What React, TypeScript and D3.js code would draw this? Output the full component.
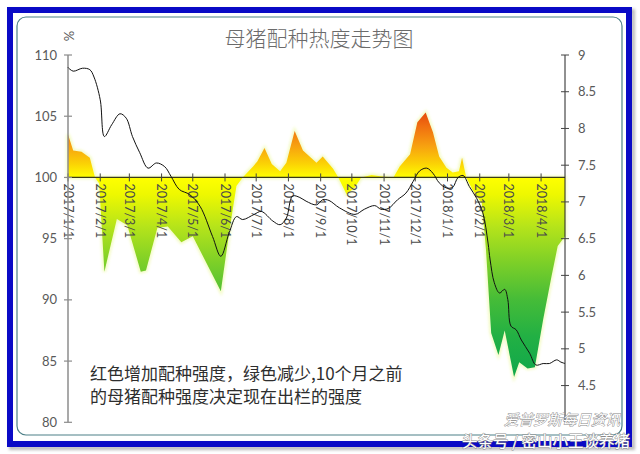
import React from 'react';
import * as d3 from 'd3';

// ---------- data ----------
const areaDates = [
  '2017-01-01', '2017-01-06', '2017-01-14', '2017-01-22', '2017-01-27', '2017-01-31',
  '2017-02-05', '2017-02-17', '2017-02-27', '2017-03-12', '2017-03-17', '2017-03-28',
  '2017-04-07', '2017-04-20', '2017-05-01', '2017-05-28', '2017-06-05', '2017-06-12',
  '2017-06-18', '2017-06-28', '2017-07-02', '2017-07-09', '2017-07-16', '2017-07-24',
  '2017-07-30', '2017-08-07', '2017-08-15', '2017-08-28', '2017-09-03', '2017-09-13',
  '2017-09-18', '2017-09-26', '2017-10-04', '2017-10-10', '2017-10-20', '2017-10-28',
  '2017-11-10', '2017-11-16', '2017-11-26', '2017-12-03', '2017-12-11', '2017-12-18',
  '2017-12-24', '2017-12-31', '2018-01-06', '2018-01-12', '2018-01-15', '2018-01-19',
  '2018-01-25', '2018-02-03', '2018-02-07', '2018-02-12', '2018-02-19', '2018-02-25',
  '2018-03-06', '2018-03-11', '2018-03-19', '2018-03-26', '2018-04-03', '2018-04-11',
  '2018-04-17', '2018-04-24',
];
const areaValues = [
  103.5, 102.2, 102.1, 101.6, 100.0, 99.5,
  92.3, 96.6, 96.1, 92.3, 92.4, 95.9,
  96.0, 94.7, 95.2, 90.7, 95.5, 99.3,
  100.0, 100.9, 101.3, 102.4, 101.1, 100.5,
  101.2, 103.8, 102.2, 101.2, 101.7, 100.7,
  100.0, 98.6, 99.2, 100.0, 100.2, 100.1,
  100.0, 100.9, 101.9, 104.5, 105.3, 103.7,
  101.7, 100.8, 100.4, 100.5, 101.6, 100.0,
  99.0, 97.9, 94.1, 87.3, 85.5, 87.5,
  83.7, 84.9, 84.4, 84.5, 88.4, 91.9,
  94.4, 95.2,
];

const lineDates = [
  '2017-01-01', '2017-01-06', '2017-01-15', '2017-01-22', '2017-01-26', '2017-02-01',
  '2017-02-05', '2017-02-12', '2017-02-20', '2017-02-26', '2017-03-04', '2017-03-11',
  '2017-03-19', '2017-03-27', '2017-04-04', '2017-04-10', '2017-04-18', '2017-04-28',
  '2017-05-08', '2017-05-20', '2017-05-28', '2017-06-05', '2017-06-12', '2017-06-18',
  '2017-06-29', '2017-07-06', '2017-07-17', '2017-07-24', '2017-07-30', '2017-08-05',
  '2017-08-12', '2017-08-18', '2017-08-28', '2017-09-03', '2017-09-09', '2017-09-19',
  '2017-10-04', '2017-10-13', '2017-10-23', '2017-10-29', '2017-11-05', '2017-11-14',
  '2017-11-22', '2017-11-29', '2017-12-05', '2017-12-12', '2017-12-18', '2017-12-24',
  '2017-12-31', '2018-01-06', '2018-01-11', '2018-01-16', '2018-01-22', '2018-01-29',
  '2018-02-04', '2018-02-09', '2018-02-11', '2018-02-15', '2018-02-20', '2018-02-25',
  '2018-02-28', '2018-03-03', '2018-03-08', '2018-03-13', '2018-03-21', '2018-03-27',
  '2018-04-03', '2018-04-09', '2018-04-16', '2018-04-20', '2018-04-24',
];
const lineValues = [
  8.83, 8.78, 8.82, 8.8, 8.7, 8.39,
  7.89, 8.05, 8.2, 8.14, 7.89, 7.67,
  7.46, 7.53, 7.48, 7.35, 7.17, 7.1,
  6.94, 6.53, 6.26, 6.58, 6.8, 6.76,
  6.83, 6.87, 6.74, 6.69, 6.78, 7.08,
  7.06, 7.01, 6.96, 7.03, 7.02, 6.92,
  6.83, 6.9, 6.95, 6.9, 6.91, 7.03,
  7.12, 7.28, 7.42, 7.46, 7.39, 7.26,
  7.19, 7.2, 7.33, 7.36, 7.21, 7.05,
  6.85, 6.44, 6.21, 5.9, 5.76, 5.81,
  5.67, 5.31, 5.26, 5.12, 4.94, 4.78,
  4.8, 4.8, 4.85, 4.82, 4.8,
];

const monthTicks = [
  '2017-01-01', '2017-02-01', '2017-03-01', '2017-04-01', '2017-05-01', '2017-06-01',
  '2017-07-01', '2017-08-01', '2017-09-01', '2017-10-01', '2017-11-01', '2017-12-01',
  '2018-01-01', '2018-02-01', '2018-03-01', '2018-04-01',
];
const leftTicks = [80, 85, 90, 95, 100, 105, 110];
const rightTicks = [4.5, 5, 5.5, 6, 6.5, 7, 7.5, 8, 8.5, 9];

const titleText = '母猪配种热度走势图';
const noteLines = ['红色增加配种强度，绿色减少,10个月之前', '的母猪配种强度决定现在出栏的强度'];
const markLines = ['爱普罗斯每日资讯', '头条号 / 密山小王谈养猪'];

const gradientStops: [number, string][] = [
  [105.6, '#e3420b'],
  [104.2, '#f06e10'],
  [102.6, '#f7a010'],
  [101.2, '#fbcf05'],
  [100, '#ffff00'],
  [98.6, '#eef800'],
  [96, '#b6e41a'],
  [93, '#7ccf28'],
  [90, '#45bc38'],
  [87, '#22b044'],
  [83.5, '#0fa74c'],
];

const parse = d3.timeParse('%Y-%m-%d');
const fmt = d3.timeFormat('%Y/%-m/%-d');

export default function App() {
  const W = 640;
  const H = 454;
  const x = d3.scaleTime()
    .domain([parse('2017-01-01') as Date, parse('2018-04-24') as Date])
    .range([68, 565]);
  const yL = d3.scaleLinear().domain([80, 110]).range([422.3, 55]);
  const yR = d3.scaleLinear().domain([4, 9]).range([422.3, 55]);

  const areaData = areaDates.map((d, i) => ({ t: parse(d) as Date, v: areaValues[i] }));
  const lineData = lineDates.map((d, i) => ({ t: parse(d) as Date, v: lineValues[i] }));

  const areaGen = d3.area<{ t: Date; v: number }>()
    .x(d => x(d.t))
    .y0(yL(100))
    .y1(d => yL(d.v))
    .curve(d3.curveLinear);
  const lineGen = d3.line<{ t: Date; v: number }>()
    .x(d => x(d.t))
    .y(d => yR(d.v))
    .curve(d3.curveCatmullRom.alpha(0.5));

  const g0 = 106, g1 = 83;
  const numFont = 'Lato, "Open Sans", sans-serif';
  const cjk = '"Noto Sans CJK SC", sans-serif';
  const y100 = yL(100);

  return (
    <svg width={W} height={H} style={{ position: 'absolute', left: 0, top: 0, background: '#fff' }}>
      <defs>
        <linearGradient id="heat" gradientUnits="userSpaceOnUse" x1={0} x2={0} y1={yL(g0)} y2={yL(g1)}>
          {gradientStops.map(([v, c], i) => (
            <stop key={i} offset={(g0 - v) / (g0 - g1)} stopColor={c} />
          ))}
        </linearGradient>
        <filter id="glow" x="-10%" y="-10%" width="120%" height="120%">
          <feGaussianBlur stdDeviation="1.4" />
        </filter>
        <filter id="shadow" x="-5%" y="-5%" width="110%" height="110%">
          <feGaussianBlur stdDeviation="1.5" />
        </filter>
      </defs>

      {/* frame */}
      <rect x={11} y={11} width={622} height={437} fill="none" stroke="#bbb" strokeWidth={4} filter="url(#shadow)" />
      <rect x={10} y={10} width={619} height={434} fill="#fff" stroke="#0a0ac6" strokeWidth={6} />
      <rect x={17} y={17} width={605} height={418} rx={9} fill="#fff" stroke="#4d8088" strokeWidth={1.2} />

      {/* title */}
      <text x={319} y={46} textAnchor="middle" fontFamily={cjk} fontSize={21} fill="#6b6b6b" fontWeight={300}>
        {titleText}
      </text>
      <text x={0} y={0} transform={`translate(74,36) rotate(-90)`} textAnchor="middle" fontFamily={numFont} fontSize={13} fill="#595959">%</text>

      {/* area with glow */}
      <path d={areaGen(areaData) || ''} fill="none" stroke="#eef9a8" strokeWidth={3} filter="url(#glow)" opacity={0.8} />
      <path d={areaGen(areaData) || ''} fill="url(#heat)" />

      {/* x baseline and month ticks */}
      <line x1={x.range()[0]} x2={x.range()[1]} y1={y100} y2={y100} stroke="#3a3a1a" strokeWidth={1.2} />
      {monthTicks.map((d) => {
        const xx = x(parse(d) as Date);
        return (
          <g key={d}>
            <line x1={xx} x2={xx} y1={y100 - 4} y2={y100 + 4} stroke="#444" strokeWidth={1} />
            <text
              transform={`translate(${xx},${y100 + 6}) rotate(90)`}
              dy="0.35em"
              fontFamily={numFont}
              fontSize={12.5}
              fill="#4a4a4a"
            >
              {fmt(parse(d) as Date)}
            </text>
          </g>
        );
      })}

      {/* left axis */}
      <line x1={68} x2={68} y1={yL(110)} y2={yL(80)} stroke="#8c8c8c" strokeWidth={1.5} />
      {leftTicks.map(v => (
        <g key={v}>
          <line x1={64} x2={72} y1={yL(v)} y2={yL(v)} stroke="#8c8c8c" strokeWidth={1.2} />
          <text x={57} y={yL(v)} dy="0.35em" textAnchor="end" fontFamily={numFont} fontSize={13} fill="#595959">{v}</text>
        </g>
      ))}

      {/* right axis */}
      <line x1={565} x2={565} y1={yR(9)} y2={yR(4)} stroke="#222" strokeWidth={1} />
      {rightTicks.map(v => (
        <g key={v}>
          <line x1={561} x2={569} y1={yR(v)} y2={yR(v)} stroke="#444" strokeWidth={1} />
          <text x={578} y={yR(v)} dy="0.35em" fontFamily={numFont} fontSize={13} fill="#595959">{v}</text>
        </g>
      ))}

      {/* line */}
      <path d={lineGen(lineData) || ''} fill="none" stroke="#111" strokeWidth={1} />

      {/* note */}
      {noteLines.map((t, i) => (
        <text key={i} x={90} y={380 + i * 23} fontFamily={cjk} fontSize={17} fill="#2e2e2e">{t}</text>
      ))}

      {/* watermark */}
      <text x={620} y={425} textAnchor="end" fontFamily={cjk} fontSize={14.5} fill="#fff" stroke="#8a8a8a" strokeWidth={0.9} paintOrder="stroke" fontStyle="italic">
        {markLines[0]}
      </text>
      <text x={630} y={447} textAnchor="end" fontFamily={cjk} fontSize={15.5} fill="#fff" stroke="#8a8a8a" strokeWidth={0.9} paintOrder="stroke">
        {markLines[1]}
      </text>
    </svg>
  );
}
